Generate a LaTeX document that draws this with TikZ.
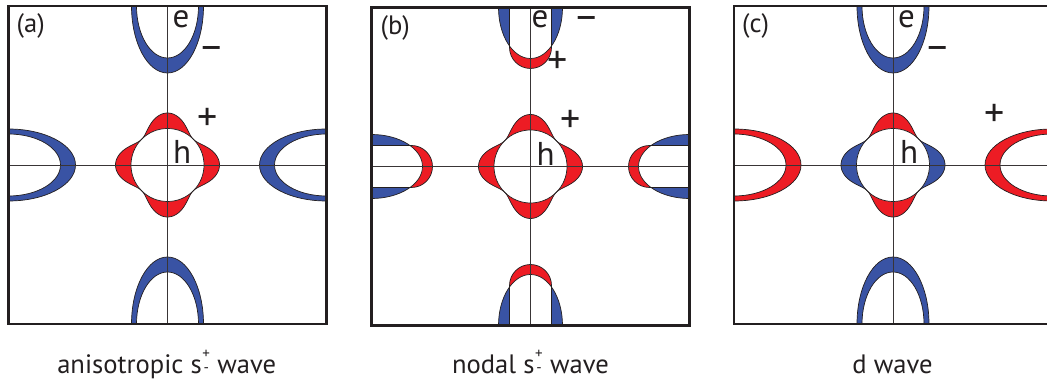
\documentclass[tikz,border=0pt]{standalone}
\usepackage{fontspec}
\setmainfont{PT Sans}
\definecolor{pblue}{RGB}{57,83,164}
\definecolor{pred}{RGB}{237,28,36}
\definecolor{ink}{RGB}{35,31,32}
\newcommand\lobespath{plot[domain=0:360,samples=241,smooth] ({(36.5+15.5*pow(cos(2*\x),2))*cos(\x)},{(36.5+15.5*pow(cos(2*\x),2))*sin(\x)}) -- cycle}
\newcommand\upath{(-21,-12) -- (-21,40) arc[start angle=180,end angle=0,radius=21] -- (21,-12) -- cycle}
\newcommand\pocketsimple[1]{%
  \fill[#1,even odd rule] (0,0) ellipse[x radius=36,y radius=67] (0,0) ellipse[x radius=31,y radius=52];
  \draw[outl] (0,0) ellipse[x radius=36,y radius=67] (0,0) ellipse[x radius=31,y radius=52];}
\newcommand\pocketnodal{%
  \fill[pblue] (0,0) ellipse[x radius=32,y radius=51];
  \fill[pred] \upath;
  \begin{scope}\clip (0,0) ellipse[x radius=32,y radius=51];\fill[white] \upath;\end{scope}
  \draw[outl] (0,0) ellipse[x radius=32,y radius=51];
  \draw[outl] \upath;}
\newcommand\spm{s\hspace{4.5pt}\makebox[0pt]{\raisebox{15pt}{\fontsize{15}{15}\selectfont +}}\makebox[0pt]{\raisebox{1pt}{\fontsize{15}{15}\selectfont -}}\hspace{4pt}}
\begin{document}
\begin{tikzpicture}[x=1pt,y=1pt,
  outl/.style={draw=ink,line width=0.7pt},
  axisline/.style={draw=ink!90,line width=0.9pt},
  frame/.style={draw=ink,line width=2.5pt},
  lab/.style={font=\fontsize{26.6}{30}\selectfont,inner sep=0pt,text=ink},
  sym/.style={font=\fontsize{33}{36}\selectfont,inner sep=0pt,text=ink},
  sgn/.style={font=\fontsize{40}{44}\selectfont,inner sep=0pt,text=ink}]
\useasboundingbox (0,0) rectangle (1047,383);
\clip (0,0) rectangle (1047,383);
% ---------- panel (a)
\begin{scope}[shift={(167.5,218)}]
  \begin{scope}
    \clip (-159,-159) rectangle (159,159);
    \begin{scope}[shift={(0,159)},rotate=180]\pocketsimple{pblue}\end{scope}
    \begin{scope}[shift={(0,-159)}]\pocketsimple{pblue}\end{scope}
    \begin{scope}[shift={(-159,0)},rotate=-90]\pocketsimple{pblue}\end{scope}
    \begin{scope}[shift={(159,0)},rotate=90]\pocketsimple{pblue}\end{scope}
    \fill[pred] \lobespath;
    \fill[white] (0,0) circle[radius=36.5];
    \draw[outl] \lobespath;
    \draw[outl] (0,0) circle[radius=36.5];
    \draw[axisline] (-159,0) -- (159,0) (0,-159) -- (0,159);
  \end{scope}
  \draw[frame] (-159,-159) rectangle (159,159);
  \node[lab,anchor=base west] (la) at (-151,132) {(a)};
  \node[sym,anchor=base west] (ea) at (5,137) {e};
  \node[sgn,anchor=mid] (ma) at (44,107.5) {–};
  \node[sgn,anchor=mid] (pa) at (40.5,37) {+};
  \node[sym,anchor=base west] (ha) at (5.5,1.5) {h};
\end{scope}
% ---------- panel (b)
\begin{scope}[shift={(530.5,216.5)}]
  \begin{scope}
    \clip (-159,-159) rectangle (159,159);
    \begin{scope}[shift={(0,159)},rotate=180]\pocketnodal\end{scope}
    \begin{scope}[shift={(0,-159)}]\pocketnodal\end{scope}
    \begin{scope}[shift={(-159,0)},rotate=-90]\pocketnodal\end{scope}
    \begin{scope}[shift={(159,0)},rotate=90]\pocketnodal\end{scope}
    \fill[pred] \lobespath;
    \fill[white] (0,0) circle[radius=36.5];
    \draw[outl] \lobespath;
    \draw[outl] (0,0) circle[radius=36.5];
    \draw[axisline] (-159,0) -- (159,0) (0,-159) -- (0,159);
  \end{scope}
  \draw[frame] (-159,-159) rectangle (159,159);
  \node[lab,anchor=base west] (lb) at (-150,132) {(b)};
  \node[sym,anchor=base west] (eb) at (1,138.5) {e};
  \node[sgn,anchor=mid] (mb) at (56,139) {–};
  \node[sgn,anchor=mid] (pb1) at (27,95) {+};
  \node[sgn,anchor=mid] (pb2) at (40.5,36.5) {+};
  \node[sym,anchor=base west] (hb) at (6,0.5) {h};
\end{scope}
% ---------- panel (c)
\begin{scope}[shift={(893,218)}]
  \begin{scope}
    \clip (-159,-159) rectangle (159,159);
    \begin{scope}[shift={(0,159)},rotate=180]\pocketsimple{pblue}\end{scope}
    \begin{scope}[shift={(0,-159)}]\pocketsimple{pblue}\end{scope}
    \begin{scope}[shift={(-159,0)},rotate=-90]\pocketsimple{pred}\end{scope}
    \begin{scope}[shift={(159,0)},rotate=90]\pocketsimple{pred}\end{scope}
    \begin{scope}
      \clip (0,0) -- (100,100) -- (-100,100) -- cycle (0,0) -- (100,-100) -- (-100,-100) -- cycle;
      \fill[pred] \lobespath;
    \end{scope}
    \begin{scope}
      \clip (0,0) -- (100,100) -- (100,-100) -- cycle (0,0) -- (-100,100) -- (-100,-100) -- cycle;
      \fill[pblue] \lobespath;
    \end{scope}
    \fill[white] (0,0) circle[radius=36.5];
    \draw[outl] \lobespath;
    \draw[outl] (0,0) circle[radius=36.5];
    \draw[axisline] (-159,0) -- (159,0) (0,-159) -- (0,159);
  \end{scope}
  \draw[frame] (-159,-159) rectangle (159,159);
  \node[lab,anchor=base west] (lc) at (-151,132) {(c)};
  \node[sym,anchor=base west] (ec) at (5,137.5) {e};
  \node[sgn,anchor=mid] (mc) at (44.5,108) {–};
  \node[sgn,anchor=mid] (pc) at (102,41) {+};
  \node[sym,anchor=base west] (hc) at (7,1.5) {h};
\end{scope}
% ---------- captions
\node[lab,anchor=base] (ca) at (166.7,9.7) {anisotropic \spm\ wave};
\node[lab,anchor=base] (cb) at (530.5,9.7) {nodal \spm\ wave};
\node[lab,anchor=base] (cc) at (892.5,9.7) {d wave};
\end{tikzpicture}
\end{document}
